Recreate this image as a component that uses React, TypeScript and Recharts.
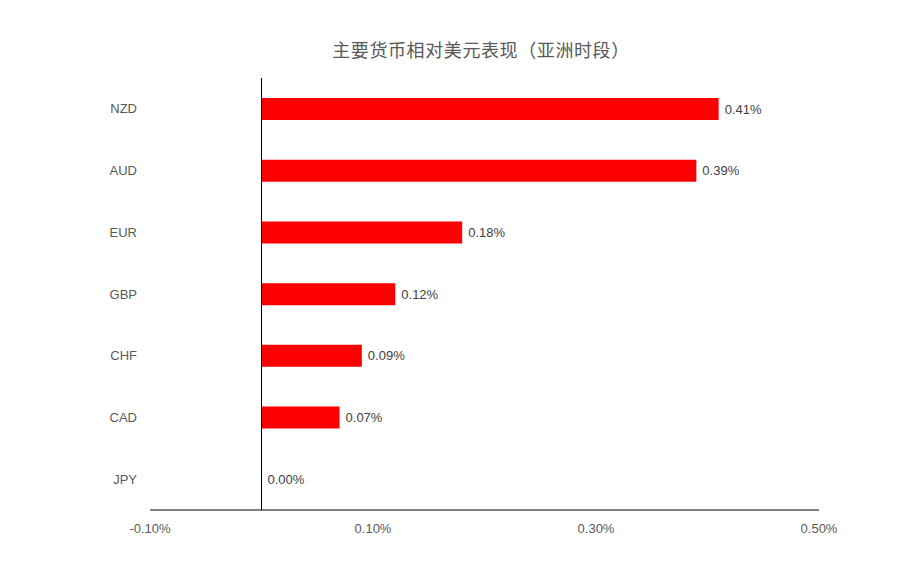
import React from "react";
import {
  BarChart,
  Bar,
  XAxis,
  YAxis,
  ReferenceLine,
  LabelList,
} from "recharts";

const currencies = ["NZD", "AUD", "EUR", "GBP", "CHF", "CAD", "JPY"];
const changes = [0.41, 0.39, 0.18, 0.12, 0.09, 0.07, 0.0];
const xTicks = [-0.1, 0.1, 0.3, 0.5];
const title = "主要货币相对美元表现（亚洲时段）";

const data = currencies.map((name, i) => ({ name, value: changes[i] }));

const pct = (v: number) => `${Number(v).toFixed(2)}%`;
const latin = "'Liberation Sans Narrow', 'Liberation Sans', Arial, sans-serif";

export default function App() {
  return (
    <div
      style={{
        position: "absolute",
        left: 0,
        top: 0,
        width: 904,
        height: 587,
        background: "#fff",
      }}
    >
      <div
        style={{
          position: "absolute",
          left: 0,
          width: 962,
          top: 37,
          textAlign: "center",
          fontFamily: "'Noto Sans CJK SC', sans-serif",
          fontSize: 18,
          letterSpacing: 0.6,
          color: "#595959",
          lineHeight: "24px",
        }}
      >
        {title}
      </div>
      <BarChart
        width={904}
        height={587}
        data={data}
        layout="vertical"
        margin={{ top: 78, right: 85, bottom: 47, left: 0 }}
        barSize={22}
      >
        <XAxis
          type="number"
          domain={[-0.1, 0.5]}
          ticks={xTicks}
          tickFormatter={pct}
          height={30}
          tickLine={false}
          tickSize={0}
          tickMargin={14}
          axisLine={{ stroke: "#000", strokeWidth: 1 }}
          tick={{ fill: "#595959", fontSize: 13, fontFamily: latin }}
          interval={0}
        />
        <YAxis
          type="category"
          dataKey="name"
          width={150}
          axisLine={false}
          tickLine={false}
          tickSize={0}
          tickMargin={13}
          tick={{ fill: "#595959", fontSize: 13, fontFamily: latin }}
          interval={0}
        />
        <Bar
          dataKey="value"
          fill="#FF0000"
          isAnimationActive={false}
          minPointSize={0.01}
        >
          <LabelList
            dataKey="value"
            position="right"
            offset={6}
            formatter={(v: any) => pct(v)}
            style={{ fill: "#404040", fontSize: 13, fontFamily: latin }}
          />
        </Bar>
        <ReferenceLine x={0} stroke="#000" strokeWidth={1} />
      </BarChart>
    </div>
  );
}
